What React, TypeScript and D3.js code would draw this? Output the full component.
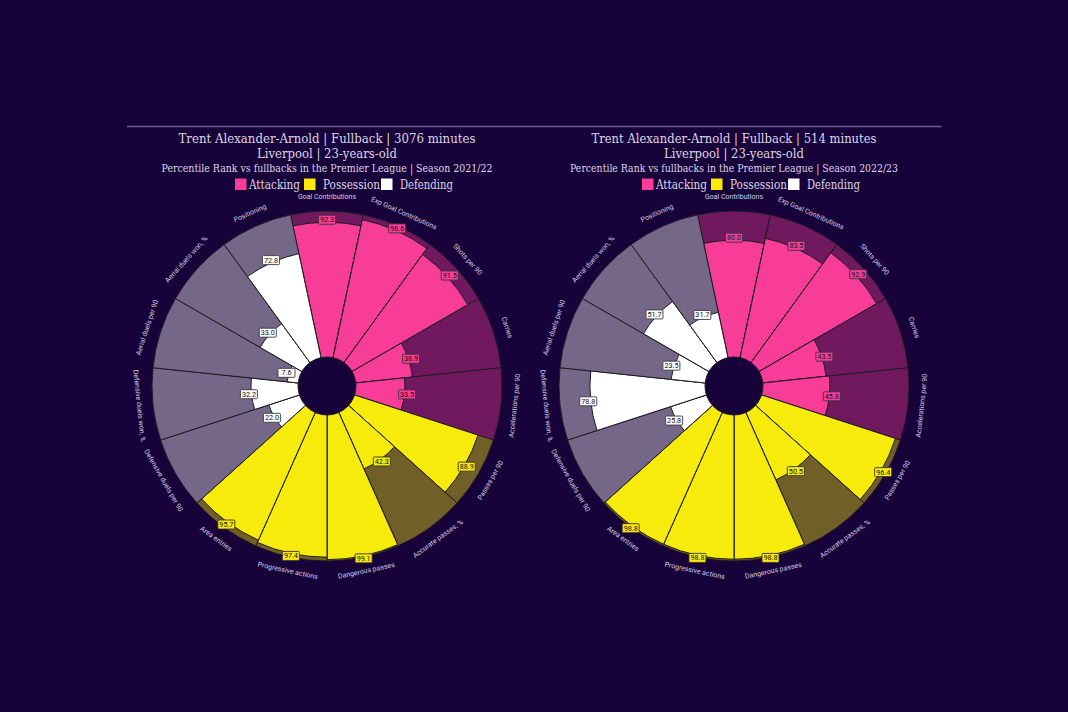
import React from "react";
import * as d3 from "d3";

const params = [
  "Goal Contributions",
  "Exp Goal Contributions",
  "Shots per 90",
  "Carries",
  "Accelerations per 90",
  "Passes per 90",
  "Accurate passes, %",
  "Dangerous passes",
  "Progressive actions",
  "Area entries",
  "Defensive duels per 90",
  "Defensive duels won, %",
  "Aerial duels per 90",
  "Aerial duels won, %",
  "Positioning",
];
const paramGroups = [
  "Attacking", "Attacking", "Attacking", "Attacking", "Attacking",
  "Possession", "Possession", "Possession", "Possession", "Possession",
  "Defending", "Defending", "Defending", "Defending", "Defending",
];
const values2122 = [92.3, 96.6, 91.5, 38.9, 33.5, 88.9, 42.3, 99.1, 97.4, 95.7, 22.0, 32.2, 7.6, 33.0, 72.8];
const values2223 = [80.0, 83.5, 92.9, 43.5, 45.8, 96.4, 50.5, 98.8, 98.8, 98.8, 25.8, 78.8, 23.5, 51.7, 31.7];
const legendGroups = ["Attacking", "Possession", "Defending"];

const charts = [
  {
    title: "Trent Alexander-Arnold | Fullback | 3076 minutes",
    sub: "Liverpool | 23-years-old",
    season: "Percentile Rank vs fullbacks in the Premier League | Season 2021/22",
    values: values2122,
    widths: [297, 140, 331],
  },
  {
    title: "Trent Alexander-Arnold | Fullback | 514 minutes",
    sub: "Liverpool | 23-years-old",
    season: "Percentile Rank vs fullbacks in the Premier League | Season 2022/23",
    values: values2223,
    widths: [285, 140, 328],
  },
];

const BG = "#18023a";
const COLORS: Record<string, string> = {
  Attacking: "#f73d97",
  Possession: "#f6eb0b",
  Defending: "#ffffff",
};
const TEXT = "#dcd7e5";
const LABEL = "#d2cce0";
const EDGE = "#1e1a24";
const SERIF = "'DejaVu Serif', serif";
const SANS = "Roboto, 'DejaVu Sans', sans-serif";

const W = 1068, H = 712;
const CXS = [327, 734];
const CY = 386;
const R0 = 29, R = 175;

function Pizza({ cx, chart }: { cx: number; chart: typeof charts[number] }) {
  const n = params.length;
  const step = 360 / n;
  const rScale = d3.scaleLinear().domain([0, 100]).range([R0, R]);
  const rad = (deg: number) => (deg * Math.PI) / 180;
  const arc = d3.arc<any>();
  return (
    <g>
      <g transform={`translate(${cx},${CY})`}>
        {params.map((p, i) => {
          const a0 = rad(i * step - step / 2), a1 = rad(i * step + step / 2);
          const c = COLORS[paramGroups[i]];
          return (
            <g key={p}>
              <path
                d={arc({ innerRadius: 0, outerRadius: R, startAngle: a0, endAngle: a1 }) as string}
                fill={c}
                fillOpacity={0.4}
                stroke={EDGE}
                strokeWidth={1}
              />
              <path
                d={arc({ innerRadius: 0, outerRadius: rScale(chart.values[i]), startAngle: a0, endAngle: a1 }) as string}
                fill={c}
                stroke={EDGE}
                strokeWidth={1}
              />
            </g>
          );
        })}
        <circle r={R0} fill={BG} stroke={EDGE} strokeWidth={1} />
        {params.map((p, i) => {
          const th = i * step;
          const lr = 189;
          const x = lr * Math.sin(rad(th));
          const y = -lr * Math.cos(rad(th));
          let rot = th;
          if (th > 90 && th < 270) rot = th - 180;
          else if (th >= 270) rot = th - 360;
          return (
            <text
              key={"l" + p}
              x={x}
              y={y}
              transform={`rotate(${rot},${x},${y})`}
              textAnchor="middle"
              dominantBaseline="central"
              fontFamily={SANS}
              fontSize={7}
              fill={LABEL}
            >
              {p}
            </text>
          );
        })}
        {params.map((p, i) => {
          const th = i * step;
          const v = chart.values[i];
          const vr = rScale(v) + 2.5;
          const x = vr * Math.sin(rad(th));
          const y = -vr * Math.cos(rad(th));
          const c = COLORS[paramGroups[i]];
          return (
            <g key={"v" + p} transform={`translate(${x},${y})`}>
              <rect x={-8.5} y={-4.5} width={17} height={9} rx={1} fill={c} stroke="#3a3440" strokeWidth={0.9} />
              <text
                textAnchor="middle"
                dominantBaseline="central"
                fontFamily={SANS}
                fontSize={7.2}
                fill="#111"
              >
                {v.toFixed(1)}
              </text>
            </g>
          );
        })}
      </g>
      <text x={cx} y={138} textAnchor="middle" dominantBaseline="central" fontFamily={SERIF} fontSize={13.5} fill={TEXT}
        textLength={chart.widths[0]} lengthAdjust="spacingAndGlyphs">
        {chart.title}
      </text>
      <text x={cx} y={153} textAnchor="middle" dominantBaseline="central" fontFamily={SERIF} fontSize={13.5} fill={TEXT}
        textLength={chart.widths[1]} lengthAdjust="spacingAndGlyphs">
        {chart.sub}
      </text>
      <text x={cx} y={168} textAnchor="middle" dominantBaseline="central" fontFamily={SERIF} fontSize={10.5} fill={TEXT}
        textLength={chart.widths[2]} lengthAdjust="spacingAndGlyphs">
        {chart.season}
      </text>
      {legendGroups.map((g, k) => {
        const sx = [-92, -23, 54][k];
        const tx = [-78, -4, 73][k];
        const tw = [51, 57, 53][k];
        return (
          <g key={g}>
            <rect x={cx + sx} y={178.5} width={11.5} height={11.5} fill={COLORS[g]} />
            <text x={tx + cx} y={184.5} dominantBaseline="central" fontFamily={SERIF} fontSize={12} fill={TEXT}
              textLength={tw} lengthAdjust="spacingAndGlyphs">
              {g}
            </text>
          </g>
        );
      })}
    </g>
  );
}

export default function App() {
  return (
    <svg
      width={W}
      height={H}
      style={{ position: "fixed", left: 0, top: 0, background: BG, display: "block" }}
    >
      <rect width={W} height={H} fill={BG} />
      <line x1={127} x2={941.5} y1={126.5} y2={126.5} stroke="#6e6488" strokeWidth={1.3} />
      {charts.map((c, i) => (
        <Pizza key={i} cx={CXS[i]} chart={c} />
      ))}
    </svg>
  );
}
